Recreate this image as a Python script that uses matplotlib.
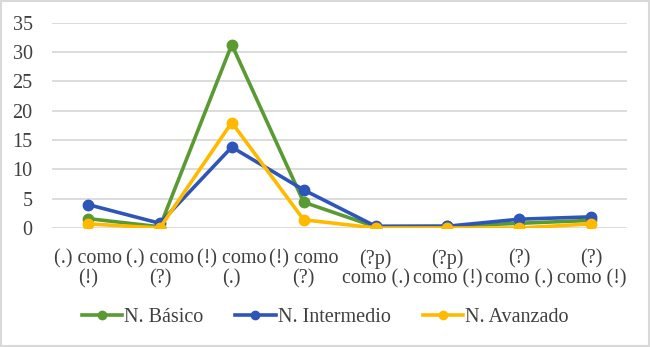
import matplotlib
matplotlib.use("Agg")
import matplotlib.pyplot as plt
from matplotlib.patches import Rectangle

# === Datos ===
categorias = ["(.) como\n(!)", "(.) como\n(?)", "(!) como\n(.)", "(!) como\n(?)",
              "(?p)\ncomo (.)", "(?p)\ncomo (!)", "(?)\ncomo (.)", "(?)\ncomo (!)"]
basico = [1.6, 0.2, 31.3, 4.4, 0.2, 0.3, 0.8, 1.3]
intermedio = [4.0, 0.8, 13.8, 6.5, 0.3, 0.3, 1.5, 1.9]
avanzado = [0.7, 0.0, 18.0, 1.4, 0.0, 0.0, 0.0, 0.7]
yticks = [0, 5, 10, 15, 20, 25, 30, 35]

plt.rcParams['font.family'] = ['Liberation Serif', 'DejaVu Serif']

fig = plt.figure(figsize=(6.5, 3.47), dpi=100)
ax = fig.add_axes([0.08, 0.343, 0.885, 0.591])

x = range(len(categorias))
ax.plot(x, basico, color='#5A9A32', lw=2.6, marker='o', ms=7.5, label='N. Básico', zorder=3)
ax.plot(x, intermedio, color='#2E56B8', lw=2.6, marker='o', ms=7.5, label='N. Intermedio', zorder=3)
ax.plot(x, avanzado, color='#FFBA00', lw=2.6, marker='o', ms=7.5, label='N. Avanzado', zorder=4)

ax.set_xlim(-0.5, len(categorias) - 0.5)
ax.set_ylim(0, 35)
ax.set_yticks(yticks)
ax.set_xticks(list(x))
ax.set_xticklabels(categorias, fontsize=14.5, color='#404040', linespacing=1.05)
ax.tick_params(axis='y', labelsize=14.5, labelcolor='#404040', length=0, pad=14)
ax.tick_params(axis='x', length=0, pad=15)
ax.grid(axis='y', color='#D9D9D9', lw=1.3)
ax.set_axisbelow(True)
for s in ax.spines.values():
    s.set_visible(False)

leg = fig.legend(loc='center', bbox_to_anchor=(0.5, 0.086), ncol=3, frameon=False,
                 fontsize=14.5, handlelength=2.0, handletextpad=0.1, columnspacing=1.6,
                 markerscale=0.8, labelcolor='#404040')

fig.patches.append(Rectangle((0.002, 0.003), 0.996, 0.994, transform=fig.transFigure,
                             fill=False, edgecolor='#D9D9D9', lw=1.5))

fig.savefig("out.png", dpi=100)
